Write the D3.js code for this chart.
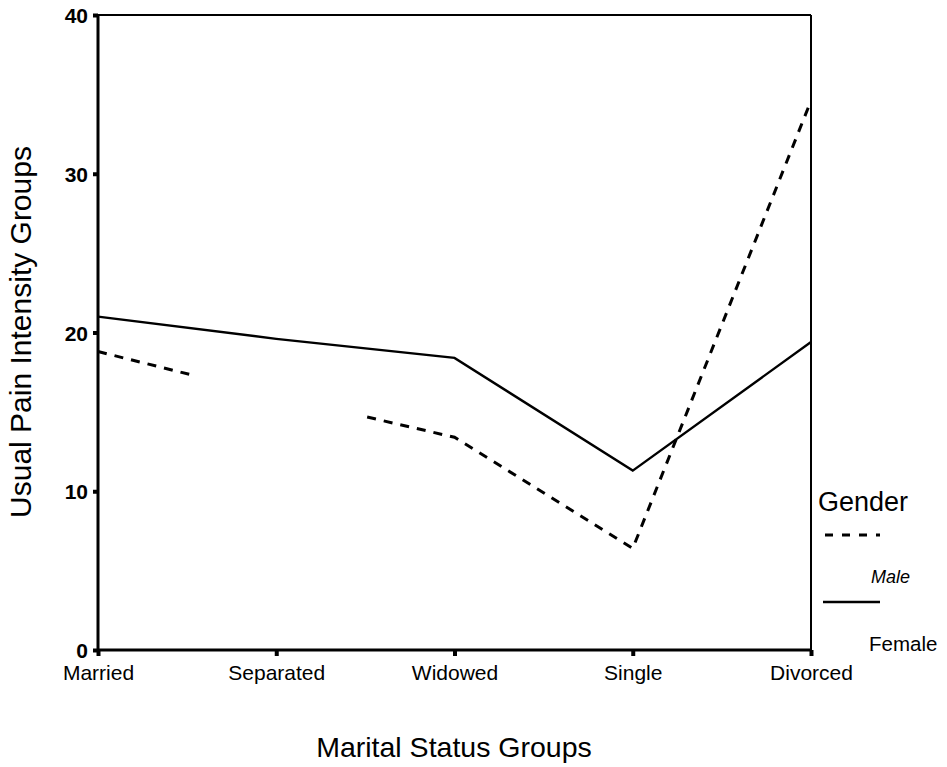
<!DOCTYPE html>
<html><head><meta charset="utf-8">
<script src="https://cdn.jsdelivr.net/npm/d3@7"></script>
<style>body{margin:0;background:#fff}svg{display:block;font-family:"Liberation Sans",Arial,sans-serif}</style>
</head><body><svg id="c" width="947" height="767"></svg>
<script>
const categories = ["Married","Separated","Widowed","Single","Divorced"];
const maleValues = [18.8, 16.0, 13.4, 6.4, 34.6];
const femaleValues = [21.0, 19.6, 18.4, 11.3, 19.4];
// segments of the male line that are not drawn (gap around Separated), as category-index ranges
const maleGaps = [[0.53, 1.51]];
const yTicks = [0,10,20,30,40];

const svg = d3.select("#c");
const x = d3.scalePoint().domain(categories).range([98, 811]);
const y = d3.scaleLinear().domain([0,40]).range([650, 15]);

// frame
svg.append("line").attr("x1",98).attr("x2",811).attr("y1",y(40)).attr("y2",y(40)).attr("stroke","#000").attr("stroke-width",2);
svg.append("line").attr("x1",811).attr("x2",811).attr("y1",y(40)).attr("y2",y(0)).attr("stroke","#000").attr("stroke-width",2);

const yAxis = svg.append("g").attr("transform","translate(98,0)")
  .call(d3.axisLeft(y).tickValues(yTicks).tickSize(5).tickPadding(4));
yAxis.select(".domain").attr("stroke-width",3).attr("d",`M0,${y(40)}V${y(0)}`);
yAxis.selectAll(".tick line").attr("stroke-width",4);
yAxis.selectAll("text").attr("font-size",21).attr("fill","#000").attr("font-weight","bold").attr("dy","0.36em").attr("dx","-1");

const xAxis = svg.append("g").attr("transform",`translate(0,${y(0)})`)
  .call(d3.axisBottom(x).tickSize(6).tickPadding(4));
xAxis.select(".domain").attr("stroke-width",3).attr("d",`M98,0H811`);
xAxis.selectAll(".tick line").attr("stroke-width",4);
xAxis.selectAll("text").attr("font-size",21).attr("fill","#000").attr("dy","0.95em");

// female line
const line = d3.line().x(d=>d[0]).y(d=>d[1]);
const femPts = categories.map((c,i)=>[x(c), y(femaleValues[i])]);
svg.append("path").attr("d",line(femPts)).attr("fill","none").attr("stroke","#000").attr("stroke-width",2.4);

// male line, drawn with gaps
const step = x.step();
const maleAt = t => { // t = fractional category index
  const i = Math.min(Math.floor(t), categories.length-2), f = t - i;
  return [x(categories[0]) + t*step, y(maleValues[i] + (maleValues[i+1]-maleValues[i])*f)];
};
let segs = [], start = 0;
maleGaps.forEach(g => { segs.push([start, g[0]]); start = g[1]; });
segs.push([start, categories.length-1]);
segs.forEach(([a,b]) => {
  const pts = [maleAt(a)];
  for (let k = Math.ceil(a); k <= Math.floor(b); k++) if (k > a && k < b) pts.push(maleAt(k));
  pts.push(maleAt(b));
  svg.append("path").attr("d",line(pts)).attr("fill","none").attr("stroke","#000")
    .attr("stroke-width",3).attr("stroke-dasharray","9,8");
});

// legend
svg.append("text").attr("x",818).attr("y",511).attr("font-size",27).text("Gender");
svg.append("line").attr("x1",825).attr("x2",880).attr("y1",535).attr("y2",535).attr("stroke","#000").attr("stroke-width",3).attr("stroke-dasharray","8,9");
svg.append("text").attr("x",871).attr("y",583).attr("font-size",18).attr("font-style","italic").text("Male");
svg.append("line").attr("x1",823).attr("x2",880).attr("y1",602).attr("y2",602).attr("stroke","#000").attr("stroke-width",2.5);
svg.append("text").attr("x",869).attr("y",651).attr("font-size",20.5).text("Female");

// titles
svg.append("text").attr("x",454).attr("y",757).attr("text-anchor","middle").attr("font-size",28.5).text("Marital Status Groups");
svg.append("text").attr("transform","translate(31,332) rotate(-90)").attr("text-anchor","middle").attr("font-size",30).text("Usual Pain Intensity Groups");
</script></body></html>
